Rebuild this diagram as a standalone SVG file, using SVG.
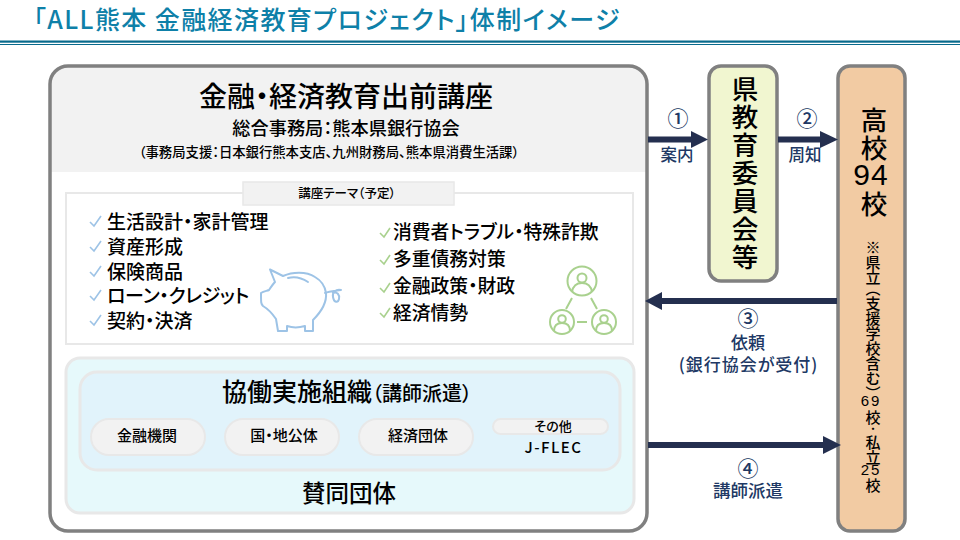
<svg xmlns="http://www.w3.org/2000/svg" width="960" height="540" viewBox="0 0 960 540">
<defs>
<style>
text{font-family:"Noto Sans CJK JP","Noto Sans",sans-serif;fill:#000;text-anchor:middle;font-weight:500;font-feature-settings:"palt"}
.n{fill:#203864}
.pill{fill:#f2f2f2;stroke:#e8e8e8;stroke-width:2}
.chk{fill:none;stroke-width:1.6}
.b{stroke:#9dc3e6}
.g{stroke:#a9d18e}
.ic{fill:none;stroke-width:2}
.li{font-size:19px;text-anchor:start}
.ri{font-size:18.800px;text-anchor:start}
.big{writing-mode:vertical-rl;font-size:26.500px;letter-spacing:1.400px;text-anchor:start;font-feature-settings:normal}
.v{writing-mode:vertical-rl;font-size:15px;text-anchor:start;font-feature-settings:normal}
.d{font-size:15px;font-family:"Liberation Sans",sans-serif;letter-spacing:2px}
.num{font-size:21px}
.lab{font-size:17px}
.flow{stroke:#242f4f;stroke-width:6;fill:none}
.head{fill:#242f4f}
</style>
</defs>
<rect width="960" height="540" fill="#fff"/>
<g id="title">
<text x="327" y="29" font-size="25" letter-spacing="1.420" style="fill:#0e80a8">「ALL熊本 金融経済教育プロジェクト」体制イメージ</text>
<rect x="0" y="40.500" width="960" height="2.200" fill="#086a8c"/>
<rect x="0" y="44" width="960" height="1" fill="#086a8c"/>
</g>
<g id="main">
<rect x="50" y="66" width="597" height="465" rx="18" fill="#fff"/>
<path d="M50 172V84a18 18 0 0 1 18-18H629a18 18 0 0 1 18 18V172Z" fill="#f2f2f2"/>
<rect x="50" y="66" width="597" height="465" rx="18" fill="none" stroke="#808080" stroke-width="3.500"/>
<text x="346" y="107" font-size="28">金融・経済教育出前講座</text>
<text x="346" y="135" font-size="18.200">総合事務局：熊本県銀行協会</text>
<text x="329" y="157" font-size="13.350">（事務局支援：日本銀行熊本支店、九州財務局、熊本県消費生活課）</text>
</g>
<g id="themes">
<rect x="66" y="193" width="567" height="151" fill="#fff" stroke="#e8e8e8" stroke-width="2"/>
<rect x="243" y="182" width="211" height="23" fill="#f2f2f2" stroke="#e8e8e8" stroke-width="1.500"/>
<text x="347" y="198" font-size="12.500">講座テーマ（予定）</text>
<g class="chk b">
<path d="M90 222l4 4 7-10"/><path d="M90 247l4 4 7-10"/><path d="M90 272l4 4 7-10"/><path d="M90 296l4 4 7-10"/><path d="M90 321l4 4 7-10"/>
</g>
<g class="chk g">
<path d="M380 233l4 4 6-9"/><path d="M380 260l4 4 6-9"/><path d="M380 288l4 4 6-9"/><path d="M380 313l4 4 6-9"/>
</g>
<text class="li" x="107" y="229">生活設計・家計管理</text>
<text class="li" x="107" y="254">資産形成</text>
<text class="li" x="107" y="279">保険商品</text>
<text class="li" x="107" y="303" letter-spacing="-0.300">ローン・クレジット</text>
<text class="li" x="107" y="328">契約・決済</text>
<text class="ri" x="393" y="238.500">消費者トラブル・特殊詐欺</text>
<text class="ri" x="393" y="265.500">多重債務対策</text>
<text class="ri" x="393" y="293">金融政策・財政</text>
<text class="ri" x="393" y="319.500">経済情勢</text>
<g class="ic b" stroke-linejoin="round" stroke-linecap="round">
<path d="M270 269.500L283 276C292 272 306 271 315 277C322 281 325 286 326 293C327 303 320 313 313 320V331H305V326C298 328 293 328 287 326V331H278L276 319C272 313 268 309 263 306C261 304 261 303 261 293C264 291 267 291 269 290C271 287 273 284 275 282Z"/>
<path d="M288 278C295 276 302 278 308 282"/>
<path d="M325 293C330 291 335 291 341 290C336 289 332 292 333 297C334 303 338 303 339 299C340 295 337 291 333 293"/>
</g>
<g class="ic g">
<circle cx="582" cy="281" r="14.500"/><circle cx="582" cy="278" r="4.500"/><path d="M572 292c1-6 4-9 10-9s9 3 10 9"/>
<circle cx="562" cy="322" r="12"/><circle cx="562" cy="319" r="3.800"/><path d="M554 331c0-5 3-8 8-8s8 3 8 8"/>
<circle cx="604" cy="322" r="12"/><circle cx="604" cy="319" r="3.800"/><path d="M596 331c0-5 3-8 8-8s8 3 8 8"/>
<path d="M572 298l-6 11M591 298l6 11M577 322h10"/>
</g>
</g>
<g id="support">
<rect x="66" y="358" width="568" height="155" rx="14" fill="#e6f9fb" stroke="#e8e8e8" stroke-width="3"/>
<text x="349" y="502" font-size="23.500">賛同団体</text>
</g>
<g id="org">
<rect x="80" y="372" width="540" height="98" rx="17" fill="#e1f3fb" stroke="#e8e8e8" stroke-width="3"/>
<text x="347" y="401" font-size="25">協働実施組織<tspan font-size="20">（講師派遣）</tspan></text>
</g>
<g id="n1"><rect class="pill" x="91" y="419" width="114" height="36" rx="18"/><text x="147" y="441" font-size="15">金融機関</text></g>
<g id="n2"><rect class="pill" x="225" y="419" width="114" height="36" rx="18"/><text x="284" y="441" font-size="15">国・地公体</text></g>
<g id="n3"><rect class="pill" x="359" y="419" width="114" height="36" rx="18"/><text x="418" y="441" font-size="15">経済団体</text></g>
<g id="n4"><rect class="pill" x="493" y="419" width="115" height="15" rx="7.500"/><text x="553" y="431" font-size="13">その他</text><text x="553.500" y="453" font-size="15" letter-spacing="1.500">J-FLEC</text></g>
<g id="edu">
<rect x="709" y="66" width="68" height="215" rx="12" fill="#f1f6d0" stroke="#808080" stroke-width="3.500"/>
<text class="big" x="745" y="76">県教育委員会等</text>
</g>
<g id="school">
<rect x="838" y="66" width="67" height="465" rx="12" fill="#f2cba3" stroke="#808080" stroke-width="3.500"/>
<text class="big" x="874" y="106.500">高校</text>
<text x="871" y="185" font-size="30" style="font-family:'Liberation Sans',sans-serif;letter-spacing:1px">94</text>
<text class="big" x="874" y="191">校</text>
<text class="v" x="873" y="240">※県立</text>
<text class="v" x="873" y="281">（支援学校含む）</text>
<text class="d" x="871" y="406">69</text>
<text class="v" x="873" y="409.500">校<tspan font-size="10">・</tspan>私立</text>
<text class="d" x="871" y="475">25</text>
<text class="v" x="873" y="477.500">校</text>
</g>
<g id="connectors">
<path class="flow" d="M648 139.500H692"/><path class="head" d="M691 131L708 139.500 691 148Z"/>
<path class="flow" d="M778 139.500H821"/><path class="head" d="M820 131L838 139.500 820 148Z"/>
<path class="flow" d="M837 301H661"/><path class="head" d="M662 292L645 301 662 310Z"/>
<path class="flow" d="M648 445H824"/><path class="head" d="M823 436L841 445 823 454Z"/>
</g>
<g id="labels">
<text class="n num" x="678" y="126">①</text>
<text class="n" x="677" y="161" font-size="16.500">案内</text>
<text class="n num" x="807" y="126">②</text>
<text class="n" x="805" y="161" font-size="16.500">周知</text>
<text class="n num" x="748" y="326">③</text>
<text class="n lab" x="748" y="349">依頼</text>
<text class="n lab" x="748.500" y="371" letter-spacing="1">(銀行協会が受付)</text>
<text class="n num" x="748" y="476">④</text>
<text class="n" x="748" y="497" font-size="17.500">講師派遣</text>
</g>
</svg>
